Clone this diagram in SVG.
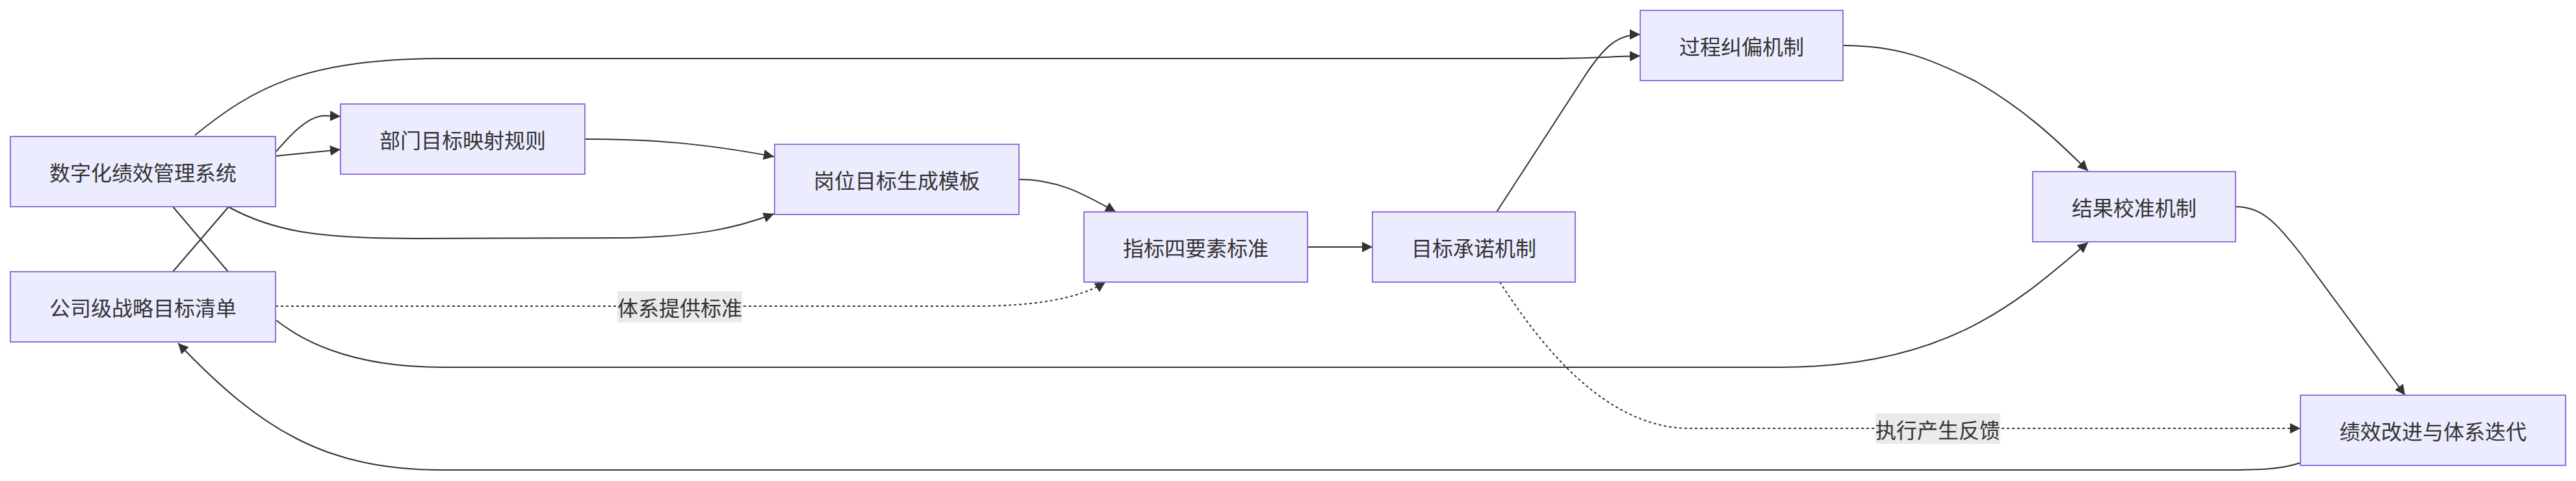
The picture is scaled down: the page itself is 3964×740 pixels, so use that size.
<svg xmlns="http://www.w3.org/2000/svg" width="3964" height="740" viewBox="0 0 3964 740">
<style>
.node rect{fill:#ECECFF;stroke:#9370DB;stroke-width:2}
.node text,.lbl text{font-family:"Noto Sans CJK SC","Liberation Sans",sans-serif;font-size:32px;fill:#333;text-anchor:middle;dominant-baseline:central}
.edge{fill:none;stroke:#333;stroke-width:2}
.dot{stroke-dasharray:4 4}
.lbl rect{fill:#E8E8E8;fill-opacity:0.9}
</style>
<defs>
<marker id="arr" viewBox="0 0 10 10" refX="10" refY="5" markerUnits="userSpaceOnUse" markerWidth="16" markerHeight="16" orient="auto">
<path d="M0,0 L10,5 L0,10 z" fill="#333"/>
</marker>
</defs>
<rect width="3964" height="740" fill="#fff"/>
<g id="connectors">
<path class="edge" marker-end="url(#arr)" d="M266,418 L400,262 C440,215 470,178 500,178 L524,179"/>
<path class="edge" marker-end="url(#arr)" d="M424,240 L524,230"/>
<path class="edge" marker-end="url(#arr)" d="M300,208 C390,135 470,90 680,90 L2380,90 C2440,90 2480,87 2524,86"/>
<path class="edge" marker-end="url(#arr)" d="M351,318 C420,356 490,367 640,367 L960,366 C1070,364 1130,352 1191,329"/>
<path class="edge" marker-end="url(#arr)" d="M900,214 C1000,214 1080,220 1191,241"/>
<path class="edge" marker-end="url(#arr)" d="M1568,276 C1630,276 1670,300 1717,326"/>
<path class="edge dot" marker-end="url(#arr)" d="M424,471 L1500,471 C1590,471 1660,460 1701,434"/>
<path class="edge" marker-end="url(#arr)" d="M266,318 L351,418 C400,476 470,565 680,565 L2740,565 C3000,565 3110,460 3213,373"/>
<path class="edge" marker-end="url(#arr)" d="M2011,380 L2112,380"/>
<path class="edge" marker-end="url(#arr)" d="M2303,326 L2440,115 C2470,70 2490,53 2524,53"/>
<path class="edge dot" marker-end="url(#arr)" d="M2308,434 C2370,530 2470,659 2600,659 L3540,659"/>
<path class="edge" marker-end="url(#arr)" d="M2836,70 C2920,70 2970,90 3040,125 C3110,165 3160,210 3213,263"/>
<path class="edge" marker-end="url(#arr)" d="M3440,318 C3480,318 3500,340 3540,390 L3701,608"/>
<path class="edge" marker-end="url(#arr)" d="M3540,712 C3510,722 3480,723 3420,723 L680,723 C500,723 400,660 274,528"/>
<g class="lbl" id="label-standard"><rect x="950" y="448" width="192" height="48"/><text x="1046" y="472">体系提供标准</text></g>
<g class="lbl" id="label-feedback"><rect x="2886" y="636" width="192" height="47"/><text x="2982" y="659.5">执行产生反馈</text></g>
</g>
<g id="n_sys" class="node"><rect x="16" y="210" width="408" height="108"/><text x="220" y="264">数字化绩效管理系统</text></g>
<g id="n_company" class="node"><rect x="16" y="418" width="408" height="108"/><text x="220" y="472">公司级战略目标清单</text></g>
<g id="n_dept" class="node"><rect x="524" y="160" width="376" height="108"/><text x="712" y="214">部门目标映射规则</text></g>
<g id="n_post" class="node"><rect x="1192" y="222" width="376" height="108"/><text x="1380" y="276">岗位目标生成模板</text></g>
<g id="n_index" class="node"><rect x="1668" y="326" width="344" height="108"/><text x="1840" y="380">指标四要素标准</text></g>
<g id="n_commit" class="node"><rect x="2112" y="326" width="312" height="108"/><text x="2268" y="380">目标承诺机制</text></g>
<g id="n_process" class="node"><rect x="2524" y="16" width="312" height="108"/><text x="2680" y="70">过程纠偏机制</text></g>
<g id="n_result" class="node"><rect x="3128" y="264" width="312" height="108"/><text x="3284" y="318">结果校准机制</text></g>
<g id="n_improve" class="node"><rect x="3540" y="608" width="408" height="108"/><text x="3744" y="662">绩效改进与体系迭代</text></g>
</svg>
